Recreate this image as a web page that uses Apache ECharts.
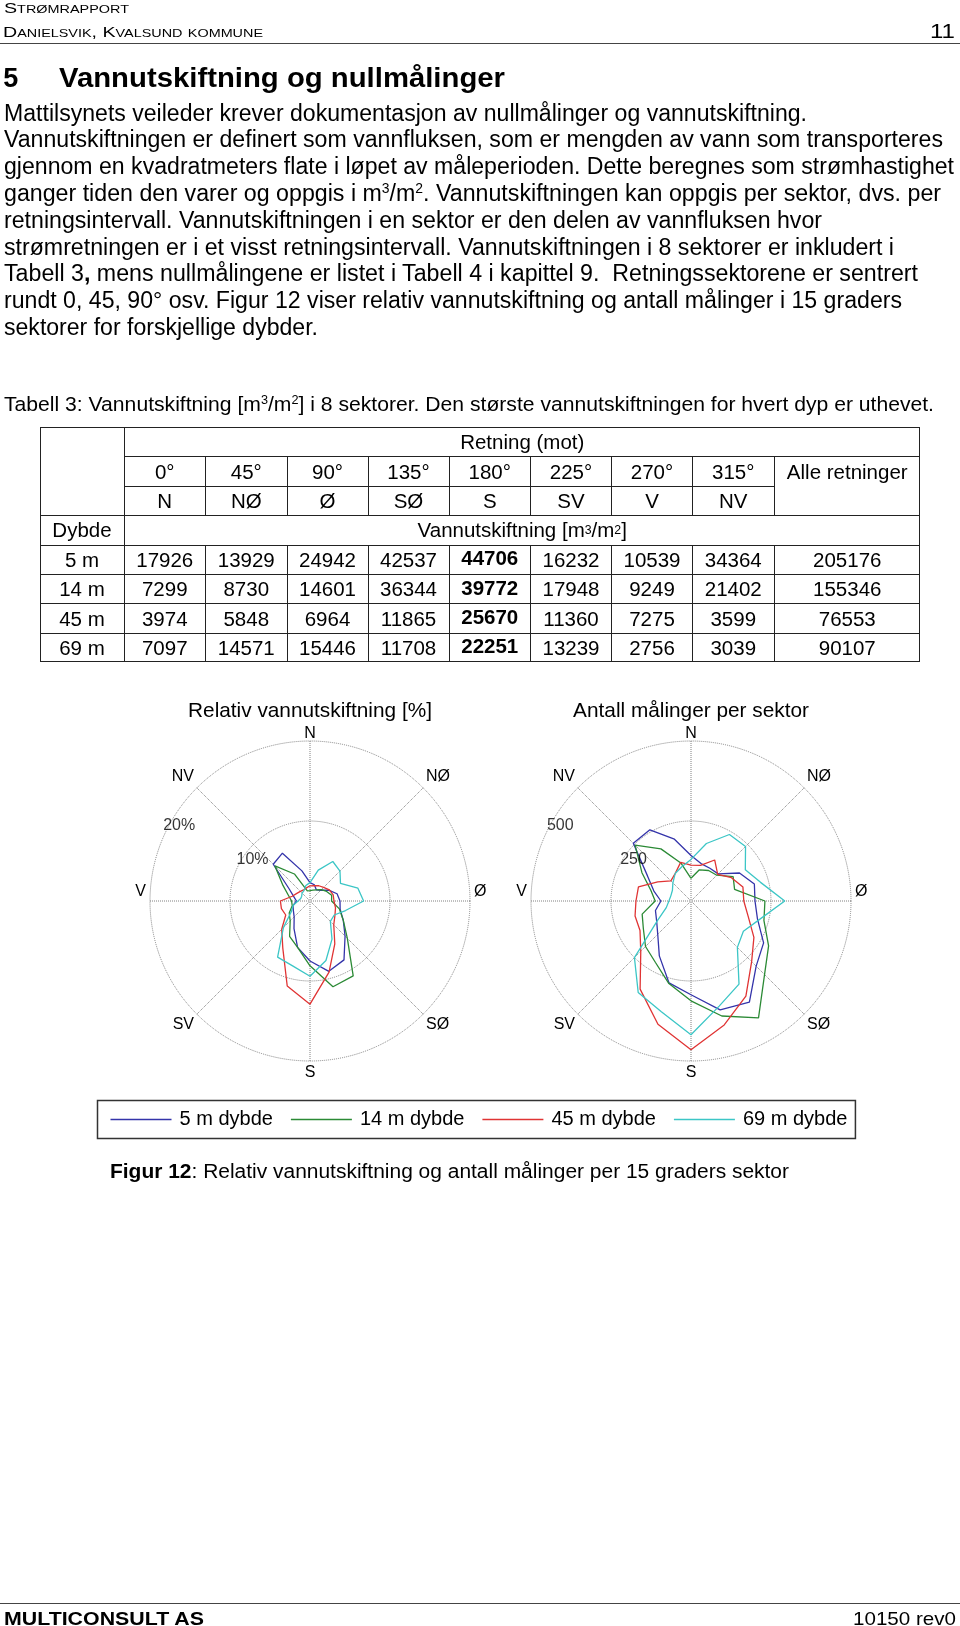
<!DOCTYPE html>
<html><head><meta charset="utf-8">
<script src="https://cdn.jsdelivr.net/npm/echarts@6/dist/echarts.min.js"></script>
<style>
html,body{margin:0;padding:0;background:#fff;}
#page{position:relative;width:960px;height:1626px;overflow:hidden;font-family:'Liberation Sans',Arial,sans-serif;color:#000;background:#fff;}
#chart{position:absolute;left:0;top:0;width:960px;height:1626px;z-index:1;}
.t{position:absolute;white-space:nowrap;line-height:1;transform-origin:0 0;z-index:2;}
.sc{font-variant:small-caps;}
.rule{position:absolute;left:0;width:960px;height:0;border-top:1.5px solid #444;z-index:2;}
.cell{position:absolute;box-sizing:border-box;border-left:1.3px solid #222;border-top:1.3px solid #222;display:flex;align-items:center;justify-content:center;font-size:20.5px;white-space:nowrap;z-index:2;}
.cell.top{align-items:flex-start;}
.frame{position:absolute;box-sizing:border-box;border-right:1.3px solid #222;border-bottom:1.3px solid #222;z-index:2;}
sup{font-size:0.6em;line-height:0;vertical-align:0.6em;}
</style></head>
<body>
<div id="page">
<div id="chart"></div>

<div class="t sc" data-x="4" data-b="12.5" data-fs="15" data-w="125">Strømrapport</div>
<div class="t sc" data-x="3" data-b="36.7" data-fs="15" data-w="260">Danielsvik, Kvalsund kommune</div>
<div class="t" data-r="955" data-b="37.5" data-fs="21" data-w="25">11</div>
<div class="rule" style="top:42.5px"></div>

<div class="t" style="font-weight:bold" data-x="3.3" data-b="88.3" data-fs="27">5</div>
<div class="t" style="font-weight:bold" data-x="59" data-b="88.3" data-fs="27" data-w="446">Vannutskiftning og nullmålinger</div>

<div class="t" data-x="4" data-b="121" data-fs="23" data-w="803">Mattilsynets veileder krever dokumentasjon av nullmålinger og vannutskiftning.</div>
<div class="t" data-x="4" data-b="147.8" data-fs="23" data-w="939">Vannutskiftningen er definert som vannfluksen, som er mengden av vann som transporteres</div>
<div class="t" data-x="4" data-b="174.6" data-fs="23" data-w="950">gjennom en kvadratmeters flate i løpet av måleperioden. Dette beregnes som strømhastighet</div>
<div class="t" data-x="4" data-b="201.4" data-fs="23" data-w="937">ganger tiden den varer og oppgis i m<sup>3</sup>/m<sup>2</sup>. Vannutskiftningen kan oppgis per sektor, dvs. per</div>
<div class="t" data-x="4" data-b="228.2" data-fs="23" data-w="818">retningsintervall. Vannutskiftningen i en sektor er den delen av vannfluksen hvor</div>
<div class="t" data-x="4" data-b="255" data-fs="23" data-w="890">strømretningen er i et visst retningsintervall. Vannutskiftningen i 8 sektorer er inkludert i</div>
<div class="t" data-x="4" data-b="281.8" data-fs="23" data-w="914">Tabell 3<b>,</b> mens nullmålingene er listet i Tabell 4 i kapittel 9.&nbsp; Retningssektorene er sentrert</div>
<div class="t" data-x="4" data-b="308.6" data-fs="23" data-w="898">rundt 0, 45, 90° osv. Figur 12 viser relativ vannutskiftning og antall målinger i 15 graders</div>
<div class="t" data-x="4" data-b="335" data-fs="23" data-w="314">sektorer for forskjellige dybder.</div>

<div class="t" data-x="4" data-b="411.7" data-fs="20.5" data-w="930">Tabell 3: Vannutskiftning [m<sup>3</sup>/m<sup>2</sup>] i 8 sektorer. Den største vannutskiftningen for hvert dyp er uthevet.</div>

<div class="t" data-x="110" data-b="1177.5" data-fs="20" data-w="679"><b>Figur 12</b>: Relativ vannutskiftning og antall målinger per 15 graders sektor</div>

<div class="rule" style="top:1602.5px"></div>
<div class="t" style="font-weight:bold" data-x="4" data-b="1625" data-fs="19" data-w="200">MULTICONSULT AS</div>
<div class="t" data-r="955.8" data-b="1625" data-fs="19" data-w="103">10150 rev0</div>
</div>

<script>
// ---------- DATA ----------
const sectorAngles = [0, 15, 30, 45, 60, 75, 90, 105, 120, 135, 150, 165, 180, 195, 210, 225, 240, 255, 270, 285, 300, 315, 330, 345];
const dirLabels = ['N', 'NØ', 'Ø', 'SØ', 'S', 'SV', 'V', 'NV'];
const seriesNames = ['5 m dybde', '14 m dybde', '45 m dybde', '69 m dybde'];
const relTicks = [10, 20];
const cntTicks = [250, 500];
const chartTitles = ['Relativ vannutskiftning [%]', 'Antall målinger per sektor'];

// Relativ vannutskiftning [%] per 15-degree sector
const relDepth5  = [2.3, 2.1, 1.6, 1.9, 2.7, 3.5, 3.75, 3.9, 4.8, 6.2, 8.5, 9.1, 7.5, 6.0, 4.0, 2.8, 2.4, 2.2, 1.7, 2.1, 3.0, 6.5, 6.9, 3.9];
const relDepth14 = [1.3, 1.4, 1.6, 2.0, 2.4, 2.8, 2.7, 3.8, 4.8, 6.6, 10.8, 11.1, 8.1, 6.0, 5.1, 3.5, 3.0, 2.3, 2.3, 2.8, 3.9, 6.2, 3.9, 1.3];
const relDepth45 = [1.9, 2.0, 2.2, 2.4, 2.8, 3.0, 3.0, 3.3, 3.6, 4.2, 6.2, 9.2, 12.9, 11.0, 6.8, 5.0, 3.5, 3.7, 3.7, 2.3, 1.9, 1.7, 1.6, 1.7];
const relDepth69 = [2.3, 4.0, 5.7, 5.3, 4.4, 6.2, 6.7, 4.6, 3.5, 3.6, 5.5, 7.7, 9.4, 8.4, 8.1, 4.7, 2.7, 2.2, 1.5, 1.2, 1.2, 1.4, 1.5, 2.0];

// Antall målinger per sektor
const cntDepth5  = [142, 121, 118, 120, 175, 205, 200, 215, 262, 288, 365, 352, 293, 265, 198, 147, 124, 115, 94, 120, 157, 255, 257, 200];
const cntDepth14 = [71, 101, 110, 114, 152, 141, 231, 236, 280, 325, 422, 372, 312, 267, 222, 201, 172, 158, 112, 130, 177, 247, 188, 123];
const cntDepth45 = [112, 115, 148, 118, 146, 168, 165, 185, 227, 268, 343, 401, 465, 399, 318, 222, 184, 181, 172, 170, 120, 89, 99, 125];
const cntDepth69 = [130, 186, 240, 241, 196, 225, 293, 222, 189, 205, 300, 340, 418, 358, 330, 250, 120, 80, 69, 65, 67, 80, 99, 111];

// Tabell 3
const tableDeg = ['0°', '45°', '90°', '135°', '180°', '225°', '270°', '315°'];
const tableDir = ['N', 'NØ', 'Ø', 'SØ', 'S', 'SV', 'V', 'NV'];
const depthLabels = ['5 m', '14 m', '45 m', '69 m'];
const flux5  = [17926, 13929, 24942, 42537, 44706, 16232, 10539, 34364];
const flux14 = [7299, 8730, 14601, 36344, 39772, 17948, 9249, 21402];
const flux45 = [3974, 5848, 6964, 11865, 25670, 11360, 7275, 3599];
const flux69 = [7097, 14571, 15446, 11708, 22251, 13239, 2756, 3039];
const fluxTotals = [205176, 155346, 76553, 90107];

// ---------- TEXT PLACEMENT ----------
document.querySelectorAll('.t').forEach(el => {
  const fs = +el.dataset.fs;
  el.style.fontSize = fs + 'px';
  el.style.top = (+el.dataset.b - 0.8465 * fs) + 'px';
  const w = el.getBoundingClientRect().width;
  const sx = el.dataset.w ? (+el.dataset.w) / w : 1;
  if (el.dataset.r !== undefined) el.style.left = (+el.dataset.r - w * sx) + 'px';
  else el.style.left = el.dataset.x + 'px';
  el.style.transform = 'scaleX(' + sx + ')';
});

// ---------- TABLE ----------
const page = document.getElementById('page');
const colX = [39.5, 123.5, 205, 286.5, 367.5, 448.5, 530, 611, 692, 773.5, 920];
const rowY = [427, 456.4, 485.8, 515.2, 544.6, 574, 603.4, 632.8, 662.2];
function cell(c0, c1, r0, r1, html, cls) {
  const d = document.createElement('div');
  d.className = 'cell' + (cls ? ' ' + cls : '');
  d.style.left = colX[c0] + 'px';
  d.style.top = rowY[r0] + 'px';
  d.style.width = (colX[c1] - colX[c0]) + 'px';
  d.style.height = (rowY[r1] - rowY[r0]) + 'px';
  d.innerHTML = html;
  page.appendChild(d);
}
cell(0, 1, 0, 3, '');
cell(1, 10, 0, 1, 'Retning (mot)');
tableDeg.forEach((t, i) => cell(1 + i, 2 + i, 1, 2, t));
cell(9, 10, 1, 3, '<span style="line-height:' + (rowY[2] - rowY[1]) + 'px">Alle retninger</span>', 'top');
tableDir.forEach((t, i) => cell(1 + i, 2 + i, 2, 3, t));
cell(0, 1, 3, 4, 'Dybde');
cell(1, 10, 3, 4, 'Vannutskiftning [m<sup>3</sup>/m<sup>2</sup>]');
[flux5, flux14, flux45, flux69].forEach((row, r) => {
  cell(0, 1, 4 + r, 5 + r, depthLabels[r]);
  const mx = Math.max(...row);
  row.forEach((v, i) => cell(1 + i, 2 + i, 4 + r, 5 + r,
    v === mx ? '<b style="position:relative;top:-1.5px">' + v + '</b>' : String(v)));
  cell(9, 10, 4 + r, 5 + r, String(fluxTotals[r]));
});
const fr = document.createElement('div');
fr.className = 'frame';
fr.style.left = colX[0] + 'px'; fr.style.top = rowY[0] + 'px';
fr.style.width = (colX[10] - colX[0]) + 'px'; fr.style.height = (rowY[8] - rowY[0]) + 'px';
page.appendChild(fr);

// ---------- CHARTS ----------
const colors = ['#3434aa', '#2b8a35', '#e03434', '#3cc6c6'];
const FONT = 'Liberation Sans';
const gridLine = { color: '#808080', type: 'dotted', width: 1 };
const POLAR_RADIUS = 160;
const RING_LABEL_ANGLES = [306, 300];   // placement angle of each ring label
const RING_LABEL_INSET = 9;             // px inside the ring

function loop(vals) {
  const d = sectorAngles.map((a, i) => [vals[i], a]);
  d.push([vals[0], 360]);
  return d;
}
function dirFormatter(v) {
  if (v >= 360) return '';
  const k = Math.round(v / 45);
  const lbl = dirLabels[k];
  if (k === 0) return '{n|' + lbl + '}';
  if (k === 2 || k === 6) return '{h|' + lbl + '}';
  return lbl;
}
function angleAxis(pi) {
  return {
    polarIndex: pi, type: 'value', min: 0, max: 360, interval: 45,
    startAngle: 90, clockwise: true,
    axisLine: { show: false }, axisTick: { show: false },
    axisLabel: {
      margin: 4, fontSize: 16, color: '#000', fontFamily: FONT,
      formatter: dirFormatter,
      rich: {
        n: { fontSize: 16, color: '#000', fontFamily: FONT, lineHeight: 6 },
        h: { fontSize: 16, color: '#000', fontFamily: FONT, padding: [0, 0, 18, 0] }
      }
    },
    splitLine: { show: true, lineStyle: gridLine }
  };
}
function radiusAxis(pi, ticks) {
  return {
    polarIndex: pi, type: 'value', min: 0, max: ticks[ticks.length - 1], interval: ticks[0],
    axisLine: { show: false }, axisTick: { show: false }, axisLabel: { show: false },
    splitLine: { show: true, lineStyle: gridLine }
  };
}
function ringLabels(pi, ticks, suffix) {
  const maxV = ticks[ticks.length - 1];
  const inset = maxV * RING_LABEL_INSET / POLAR_RADIUS;
  return {
    type: 'scatter', coordinateSystem: 'polar', polarIndex: pi, silent: true,
    symbolSize: 1, itemStyle: { color: 'rgba(0,0,0,0)' }, z: 5,
    data: ticks.map((v, i) => ({ value: [v - inset, RING_LABEL_ANGLES[i]], tick: v })),
    label: { show: true, position: 'inside', fontSize: 16, color: '#000',
      fontFamily: FONT, formatter: p => p.data.tick + suffix }
  };
}
const relSets = [relDepth5, relDepth14, relDepth45, relDepth69];
const cntSets = [cntDepth5, cntDepth14, cntDepth45, cntDepth69];
const series = [];
relSets.forEach((vals, i) => series.push({
  name: seriesNames[i], type: 'line', coordinateSystem: 'polar', polarIndex: 0,
  data: loop(vals), symbol: 'none', smooth: false, color: colors[i],
  lineStyle: { width: 1.3, color: colors[i] }
}));
cntSets.forEach((vals, i) => series.push({
  name: seriesNames[i], type: 'line', coordinateSystem: 'polar', polarIndex: 1,
  data: loop(vals), symbol: 'none', smooth: false, color: colors[i],
  lineStyle: { width: 1.3, color: colors[i] }
}));
series.push(ringLabels(0, relTicks, '%'));
series.push(ringLabels(1, cntTicks, ''));

const polarCenters = [[310, 901], [691, 901]];
const chart = echarts.init(document.getElementById('chart'), null, { renderer: 'canvas' });
chart.setOption({
  animation: false,
  backgroundColor: 'transparent',
  title: chartTitles.map((t, i) => ({
    text: t, left: polarCenters[i][0], top: 700.5, textAlign: 'center', padding: 0,
    textStyle: { fontSize: 20.8, fontWeight: 'normal', color: '#000', fontFamily: FONT }
  })),
  polar: polarCenters.map(c => ({ center: c, radius: POLAR_RADIUS })),
  angleAxis: [angleAxis(0), angleAxis(1)],
  radiusAxis: [radiusAxis(0, relTicks), radiusAxis(1, cntTicks)],
  legend: {
    data: seriesNames, left: 97.5, top: 1100.5, orient: 'horizontal',
    icon: 'rect', itemWidth: 61, itemHeight: 1.5, itemGap: 18,
    borderColor: '#333', borderWidth: 1.5, padding: [9, 8, 9, 13],
    selectedMode: false,
    textStyle: { fontSize: 20, color: '#000', fontFamily: FONT, padding: [0, 0, 0, 3] }
  },
  series: series
});
</script>
</body></html>
